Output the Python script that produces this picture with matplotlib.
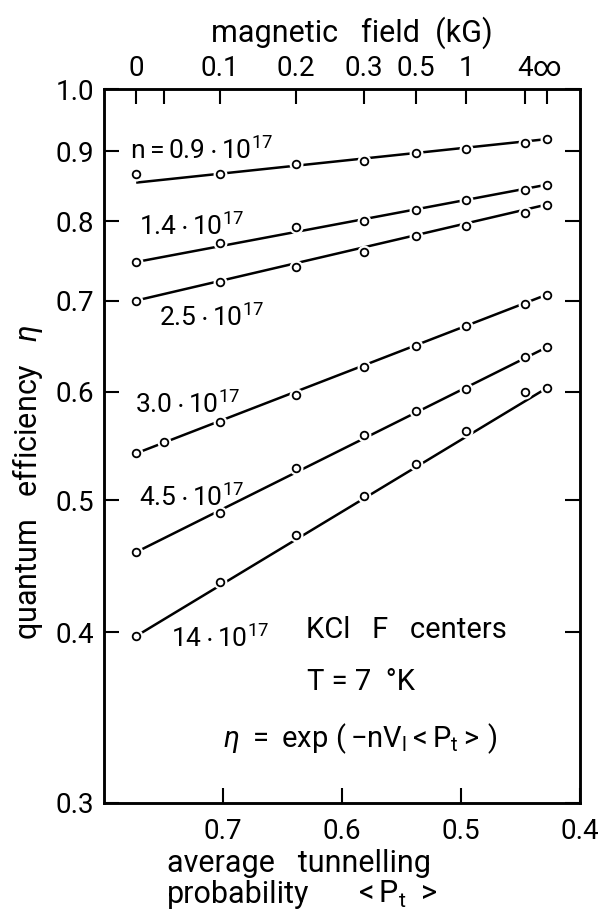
import matplotlib
matplotlib.use("Agg")
import matplotlib.pyplot as plt
from matplotlib.ticker import NullLocator

plt.rcParams["font.family"] = ["Roboto", "DejaVu Sans"]
plt.rcParams["mathtext.fontset"] = "custom"
plt.rcParams["mathtext.rm"] = "Roboto"
plt.rcParams["mathtext.it"] = "Roboto:italic"
plt.rcParams["mathtext.bf"] = "Roboto:bold"

# magnetic field (top axis) and the <P_t> each field value corresponds to
field_labels = ["0", "0.1", "0.2", "0.3", "0.5", "1", "4", "∞"]
field_p = [0.773, 0.703, 0.6386, 0.582, 0.538, 0.4958, 0.446, 0.428]
field_minor_p = [0.750]  # unlabelled tick, 0.05 kG

# measured quantum efficiency for each concentration n (in 10^17 cm^-3)
eta_n09 = [0.867, 0.867, 0.881, 0.885, 0.897, 0.904, 0.913, 0.919]
eta_n14 = [0.747, 0.771, 0.792, 0.800, 0.816, 0.830, 0.844, 0.851]
eta_n25 = [0.700, 0.722, 0.741, 0.760, 0.780, 0.794, 0.812, 0.823]
p_n30 = [0.773, 0.750, 0.703, 0.6386, 0.582, 0.538, 0.4958, 0.446, 0.428]
eta_n30 = [0.541, 0.551, 0.570, 0.597, 0.626, 0.648, 0.671, 0.696, 0.707]
eta_n45 = [0.458, 0.489, 0.528, 0.558, 0.581, 0.603, 0.636, 0.647]
eta_n140 = [0.3975, 0.4356, 0.471, 0.5036, 0.5316, 0.5617, 0.6003, 0.604]

# straight lines eta = exp(-nV<P>), end values
line_p = [0.773, 0.428]
line_left = [0.854, 0.747, 0.700, 0.541, 0.458, 0.3975]
line_right = [0.919, 0.851, 0.823, 0.707, 0.647, 0.604]

eta_ticks = [0.3, 0.4, 0.5, 0.6, 0.7, 0.8, 0.9, 1.0]
eta_tick_labels = ["0.3", "0.4", "0.5", "0.6", "0.7", "0.8", "0.9", "1.0"]
p_ticks = [0.7, 0.6, 0.5, 0.4]
p_tick_labels = ["0.7", "0.6", "0.5", "0.4"]

series = [
    (field_p, eta_n09),
    (field_p, eta_n14),
    (field_p, eta_n25),
    (p_n30, eta_n30),
    (field_p, eta_n45),
    (field_p, eta_n140),
]

fig = plt.figure(figsize=(6.12, 9.13), dpi=100)
ax = fig.add_axes([0.170, 0.1205, 0.778, 0.782])
ax.set_yscale("log")

for (p, eta), e0, e1 in zip(series, line_left, line_right):
    ax.plot(line_p, [e0, e1], color="black", lw=1.8, zorder=2, solid_capstyle="butt")
    ax.plot(p, eta, "o", ms=9, mfc="white", mec="white", zorder=3)
    ax.plot(p, eta, "o", ms=5.5, mfc="white", mec="black", mew=1.3, zorder=4)

ax.set_xlim(0.8, 0.4)
ax.set_ylim(0.3, 1.0)
ax.set_yticks(eta_ticks)
ax.set_yticklabels(eta_tick_labels)
ax.yaxis.set_minor_locator(NullLocator())
ax.set_xticks(p_ticks)
ax.set_xticklabels(p_tick_labels)
ax.xaxis.set_minor_locator(NullLocator())
ax.tick_params(axis="y", which="both", direction="in", length=11, width=1.5,
               labelsize=20, right=True, pad=7)
ax.tick_params(axis="x", which="both", direction="in", length=11, width=1.5,
               labelsize=20, pad=11)
for s in ax.spines.values():
    s.set_linewidth(1.8)

top = ax.twiny()
top.set_xlim(0.8, 0.4)
top.set_xticks(field_p)
top.set_xticklabels(field_labels)
top.set_xticks(field_minor_p, minor=True)
top.tick_params(which="both", direction="in", length=11, width=1.5,
                labelsize=20, pad=5)
for s in top.spines.values():
    s.set_linewidth(1.8)

# curve labels
fs = 19
ax.text(0.778, 0.888, r"$\mathregular{n = 0.9 \cdot 10^{17}}$", fontsize=fs)
ax.text(0.771, 0.782, r"$\mathregular{1.4 \cdot 10^{17}}$", fontsize=fs)
ax.text(0.754, 0.671, r"$\mathregular{2.5 \cdot 10^{17}}$", fontsize=fs)
ax.text(0.7737, 0.579, r"$\mathregular{3.0 \cdot 10^{17}}$", fontsize=fs)
ax.text(0.771, 0.4953, r"$\mathregular{4.5 \cdot 10^{17}}$", fontsize=fs)
ax.text(0.744, 0.3903, r"$\mathregular{14 \cdot 10^{17}}$", fontsize=fs)

ax.text(0.6306, 0.396, "KCl   F   centers", fontsize=21)
ax.text(0.6298, 0.363, "T = 7  °K", fontsize=21)
ax.text(0.7000, 0.3297,
        r"$\eta\ =\ \mathregular{exp\ (\,{-}nV_l < P_t >\,)}$", fontsize=21)

fig.text(0.575, 0.964, "magnetic   field  (kG)", fontsize=22, ha="center", va="center")
fig.text(0.046, 0.472, r"quantum   efficiency   $\eta$", fontsize=22,
         ha="center", va="center", rotation=90)
fig.text(0.273, 0.0452, "average   tunnelling", fontsize=22, ha="left", va="baseline")
fig.text(0.273, 0.0110, "probability", fontsize=22, ha="left", va="baseline")
fig.text(0.577, 0.0110, r"$\mathregular{<P_t\ >}$", fontsize=22, ha="left", va="baseline")

fig.savefig("out.png", dpi=100, facecolor="white")
